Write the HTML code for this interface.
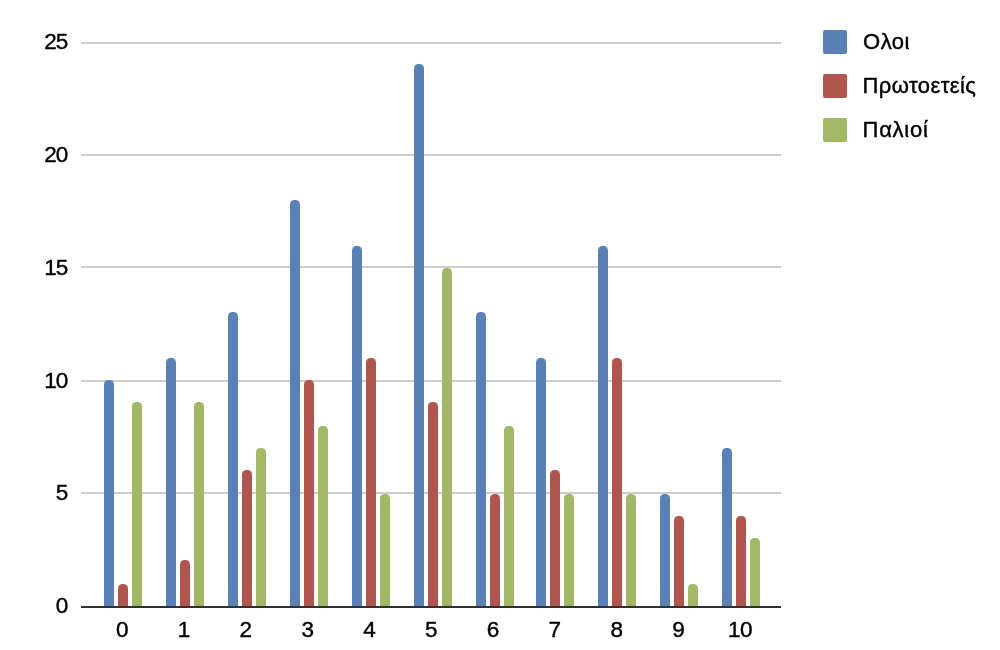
<!DOCTYPE html>
<html lang="el">
<head>
<meta charset="utf-8">
<title>Chart</title>
<style>
html,body{margin:0;padding:0;background:#fff;}
body{width:1000px;height:650px;position:relative;overflow:hidden;font-family:"Liberation Sans",sans-serif;color:#000;}
.g{position:absolute;left:81px;width:700px;height:2px;background:#cecece;}
.ax{position:absolute;left:81px;width:700px;height:2px;background:#303030;}
.b{position:absolute;width:10px;border-radius:4.5px 4.5px 0 0;}
.c0{background:#5a80b8}.c1{background:#b0564f}.c2{background:#a2b866}
.yl{position:absolute;left:0;width:67.3px;text-align:right;font-size:22.5px;-webkit-text-stroke:0.4px #000;letter-spacing:-1px;line-height:24px;height:24px;}
.xl{position:absolute;width:60px;text-align:center;font-size:22.5px;-webkit-text-stroke:0.4px #000;letter-spacing:-0.5px;line-height:24px;height:24px;top:618px;}
.sw{position:absolute;left:823px;width:24px;height:24px;border-radius:2px;}
.lt{position:absolute;left:862.5px;font-size:22px;-webkit-text-stroke:0.4px #000;line-height:24px;height:24px;white-space:nowrap;transform-origin:0 50%;}
</style>
</head>
<body>

<div class="g" style="top:42px"></div>
<div class="g" style="top:154px"></div>
<div class="g" style="top:266px"></div>
<div class="g" style="top:380px"></div>
<div class="g" style="top:492px"></div>
<div class="b c0" style="left:104px;top:380px;height:227px"></div>
<div class="b c1" style="left:118px;top:584px;height:23px"></div>
<div class="b c2" style="left:132px;top:402px;height:205px"></div>
<div class="b c0" style="left:166px;top:358px;height:249px"></div>
<div class="b c1" style="left:180px;top:560px;height:47px"></div>
<div class="b c2" style="left:194px;top:402px;height:205px"></div>
<div class="b c0" style="left:228px;top:312px;height:295px"></div>
<div class="b c1" style="left:242px;top:470px;height:137px"></div>
<div class="b c2" style="left:256px;top:448px;height:159px"></div>
<div class="b c0" style="left:290px;top:200px;height:407px"></div>
<div class="b c1" style="left:304px;top:380px;height:227px"></div>
<div class="b c2" style="left:318px;top:426px;height:181px"></div>
<div class="b c0" style="left:352px;top:246px;height:361px"></div>
<div class="b c1" style="left:366px;top:358px;height:249px"></div>
<div class="b c2" style="left:380px;top:494px;height:113px"></div>
<div class="b c0" style="left:414px;top:64px;height:543px"></div>
<div class="b c1" style="left:428px;top:402px;height:205px"></div>
<div class="b c2" style="left:442px;top:268px;height:339px"></div>
<div class="b c0" style="left:476px;top:312px;height:295px"></div>
<div class="b c1" style="left:490px;top:494px;height:113px"></div>
<div class="b c2" style="left:504px;top:426px;height:181px"></div>
<div class="b c0" style="left:536px;top:358px;height:249px"></div>
<div class="b c1" style="left:550px;top:470px;height:137px"></div>
<div class="b c2" style="left:564px;top:494px;height:113px"></div>
<div class="b c0" style="left:598px;top:246px;height:361px"></div>
<div class="b c1" style="left:612px;top:358px;height:249px"></div>
<div class="b c2" style="left:626px;top:494px;height:113px"></div>
<div class="b c0" style="left:660px;top:494px;height:113px"></div>
<div class="b c1" style="left:674px;top:516px;height:91px"></div>
<div class="b c2" style="left:688px;top:584px;height:23px"></div>
<div class="b c0" style="left:722px;top:448px;height:159px"></div>
<div class="b c1" style="left:736px;top:516px;height:91px"></div>
<div class="b c2" style="left:750px;top:538px;height:69px"></div>
<div class="ax" style="top:606px"></div>
<div class="yl" style="top:30px">25</div>
<div class="yl" style="top:143px">20</div>
<div class="yl" style="top:256px">15</div>
<div class="yl" style="top:369px">10</div>
<div class="yl" style="top:481px">5</div>
<div class="yl" style="top:594px">0</div>
<div class="xl" style="left:92.00px">0</div>
<div class="xl" style="left:153.80px">1</div>
<div class="xl" style="left:215.60px">2</div>
<div class="xl" style="left:277.40px">3</div>
<div class="xl" style="left:339.20px">4</div>
<div class="xl" style="left:401.00px">5</div>
<div class="xl" style="left:462.80px">6</div>
<div class="xl" style="left:524.60px">7</div>
<div class="xl" style="left:586.40px">8</div>
<div class="xl" style="left:648.20px">9</div>
<div class="xl" style="left:710.00px">10</div>
<div class="sw c0" style="top:30px"></div>
<div class="lt" style="left:863.1px;top:30px;letter-spacing:0.45px">Ολοι</div>
<div class="sw c1" style="top:74px"></div>
<div class="lt" style="left:862.5px;top:74px;letter-spacing:0.42px">Πρωτοετείς</div>
<div class="sw c2" style="top:118px"></div>
<div class="lt" style="left:862.5px;top:118px;letter-spacing:0.75px">Παλιοί</div>
</body>
</html>
